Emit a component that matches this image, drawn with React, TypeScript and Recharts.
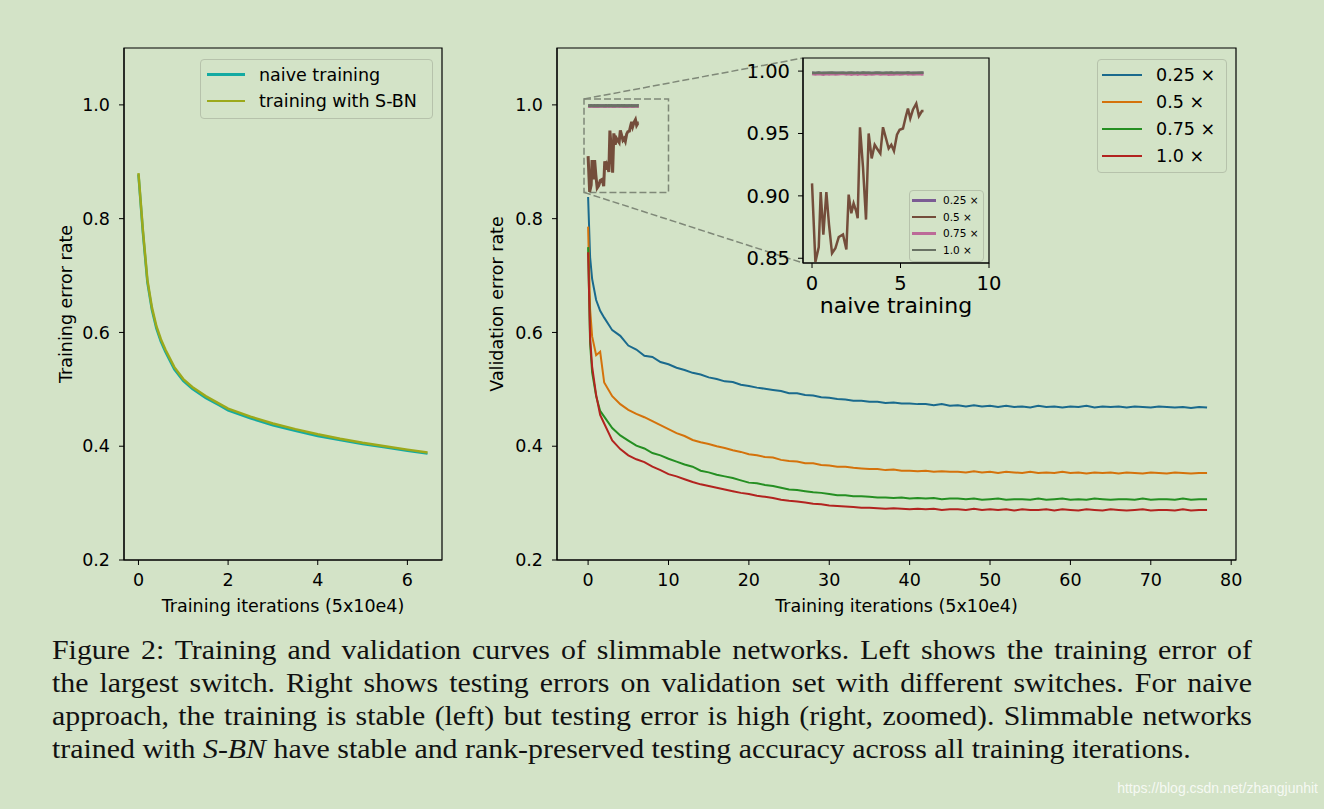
import { LineChart, Line, XAxis, YAxis, ReferenceArea, ReferenceLine } from "recharts";

const BG = "#d3e3c7";
const FONT = "'DejaVu Sans', sans-serif";

// colours (matplotlib tab palette as seen through the green page tint)
const C_BLUE = "#1a6a8d";
const C_ORANGE = "#d4720b";
const C_GREEN = "#258f22";
const C_RED = "#b2231f";
const C_PURPLE = "#7b5c94";
const C_BROWN = "#744d3b";
const C_PINK = "#bc6a98";
const C_GRAY = "#697264";
const C_CYAN = "#13aaa2";
const C_OLIVE = "#9ca91b";

// ---- left panel: training error of the largest switch ----
const trainIters = [0, 0.1, 0.2, 0.3, 0.4, 0.5, 0.6, 0.8, 1.0, 1.2, 1.5, 1.8, 2.0, 2.5, 3.0, 3.5, 4.0, 4.5, 5.0, 5.5, 6.0, 6.45];
const trainNaive = [0.878, 0.775, 0.688, 0.640, 0.607, 0.584, 0.566, 0.535, 0.515, 0.501, 0.485, 0.472, 0.463, 0.449, 0.437, 0.427, 0.418, 0.411, 0.404, 0.398, 0.392, 0.387];
const trainSBN = [0.880, 0.779, 0.692, 0.644, 0.611, 0.588, 0.570, 0.539, 0.518, 0.504, 0.488, 0.475, 0.466, 0.452, 0.440, 0.430, 0.421, 0.413, 0.406, 0.400, 0.394, 0.389];

// ---- right panel: validation error, S-BN switches ----
const iterations = [
  0, 0.25, 0.5, 1, 1.5, 2, 3, 4, 5, 6,
  7, 8, 9, 10, 11, 12, 13, 14, 15, 16,
  17, 18, 19, 20, 21, 22, 23, 24, 25, 26,
  27, 28, 29, 30, 31, 32, 33, 34, 35, 36,
  37, 38, 39, 40, 41, 42, 43, 44, 45, 46,
  47, 48, 49, 50, 51, 52, 53, 54, 55, 56,
  57, 58, 59, 60, 61, 62, 63, 64, 65, 66,
  67, 68, 69, 70, 71, 72, 73, 74, 75, 76,
  77,
];
const val025 = [
  0.838, 0.732, 0.694, 0.657, 0.638, 0.626, 0.604, 0.594, 0.577, 0.570,
  0.559, 0.557, 0.548, 0.544, 0.538, 0.534, 0.529, 0.526, 0.521, 0.518,
  0.514, 0.513, 0.508, 0.506, 0.503, 0.501, 0.499, 0.497, 0.493, 0.493,
  0.490, 0.489, 0.486, 0.485, 0.483, 0.482, 0.480, 0.480, 0.478, 0.478,
  0.476, 0.477, 0.475, 0.475, 0.474, 0.474, 0.472, 0.474, 0.471, 0.472,
  0.470, 0.472, 0.470, 0.471, 0.469, 0.471, 0.469, 0.470, 0.468, 0.471,
  0.469, 0.470, 0.468, 0.470, 0.469, 0.471, 0.468, 0.470, 0.469, 0.470,
  0.468, 0.470, 0.469, 0.468, 0.470, 0.469, 0.468, 0.469, 0.467, 0.469,
  0.468,
];
const val05 = [
  0.786, 0.640, 0.593, 0.560, 0.566, 0.512, 0.488, 0.474, 0.464, 0.457,
  0.451, 0.444, 0.437, 0.430, 0.423, 0.418, 0.411, 0.407, 0.404, 0.400,
  0.397, 0.393, 0.390, 0.386, 0.384, 0.381, 0.380, 0.376, 0.374, 0.373,
  0.370, 0.370, 0.367, 0.366, 0.364, 0.364, 0.362, 0.361, 0.360, 0.360,
  0.358, 0.359, 0.357, 0.357, 0.356, 0.357, 0.355, 0.356, 0.355, 0.355,
  0.354, 0.356, 0.354, 0.355, 0.353, 0.355, 0.354, 0.353, 0.355, 0.353,
  0.354, 0.353, 0.355, 0.353, 0.354, 0.352, 0.354, 0.353, 0.354, 0.352,
  0.354, 0.353, 0.352, 0.354, 0.353, 0.352, 0.354, 0.353, 0.352, 0.353,
  0.353,
];
const val075 = [
  0.750, 0.580, 0.530, 0.488, 0.462, 0.452, 0.432, 0.419, 0.410, 0.401,
  0.396, 0.388, 0.384, 0.378, 0.373, 0.368, 0.364, 0.357, 0.354, 0.350,
  0.347, 0.344, 0.340, 0.336, 0.335, 0.332, 0.330, 0.327, 0.324, 0.323,
  0.321, 0.319, 0.318, 0.316, 0.314, 0.314, 0.312, 0.312, 0.311, 0.310,
  0.310, 0.309, 0.310, 0.308, 0.309, 0.308, 0.309, 0.307, 0.308, 0.308,
  0.307, 0.308, 0.306, 0.307, 0.308, 0.306, 0.307, 0.307, 0.306, 0.308,
  0.306, 0.307, 0.308, 0.306, 0.307, 0.306, 0.308, 0.307, 0.306, 0.307,
  0.307, 0.306, 0.308, 0.306, 0.307, 0.307, 0.306, 0.308, 0.306, 0.307,
  0.307,
];
const val10 = [
  0.741, 0.590, 0.540, 0.490, 0.455, 0.440, 0.410, 0.395, 0.384, 0.377,
  0.372, 0.364, 0.358, 0.351, 0.347, 0.342, 0.337, 0.333, 0.330, 0.327,
  0.324, 0.321, 0.318, 0.316, 0.313, 0.311, 0.309, 0.306, 0.304, 0.303,
  0.301, 0.299, 0.298, 0.296, 0.295, 0.294, 0.293, 0.292, 0.292, 0.291,
  0.290, 0.291, 0.290, 0.289, 0.290, 0.289, 0.290, 0.288, 0.289, 0.289,
  0.288, 0.290, 0.288, 0.289, 0.288, 0.289, 0.287, 0.289, 0.288, 0.288,
  0.289, 0.287, 0.289, 0.288, 0.287, 0.289, 0.288, 0.287, 0.289, 0.288,
  0.287, 0.288, 0.289, 0.287, 0.288, 0.288, 0.287, 0.289, 0.287, 0.288,
  0.288,
];

// ---- naive training (zoomed inset) ----
const naiveIters = [
  0, 0.19, 0.38, 0.49, 0.64, 0.81, 0.96, 1.13, 1.32, 1.51,
  1.75, 1.94, 2.07, 2.22, 2.35, 2.49, 2.58, 2.71, 2.88, 3.05,
  3.2, 3.37, 3.54, 3.67, 3.86, 4.01, 4.2, 4.33, 4.48, 4.63,
  4.8, 4.95, 5.14, 5.29, 5.42, 5.55, 5.7, 5.89, 6.04, 6.21,
  6.3,
];
const naive025 = [
  0.9986, 0.9985, 0.9987, 0.9985, 0.9986, 0.9984, 0.9986, 0.9985, 0.9987, 0.9985,
  0.9986, 0.9985, 0.9986, 0.9984, 0.9986, 0.9985, 0.9987, 0.9985, 0.9986, 0.9985,
  0.9986, 0.9984, 0.9986, 0.9985, 0.9987, 0.9985, 0.9986, 0.9985, 0.9986, 0.9984,
  0.9986, 0.9985, 0.9987, 0.9985, 0.9986, 0.9985, 0.9986, 0.9984, 0.9986, 0.9985,
  0.9986,
];
const naive05 = [
  0.910, 0.847, 0.859, 0.903, 0.869, 0.903, 0.877, 0.854, 0.858, 0.867,
  0.869, 0.857, 0.901, 0.886, 0.894, 0.888, 0.882, 0.955, 0.923, 0.881,
  0.950, 0.930, 0.941, 0.938, 0.934, 0.955, 0.945, 0.938, 0.941, 0.936,
  0.949, 0.953, 0.954, 0.963, 0.970, 0.962, 0.969, 0.974, 0.964, 0.968,
  0.968,
];
const naive075 = [
  0.9976, 0.9972, 0.9977, 0.9974, 0.9971, 0.9976, 0.9973, 0.9977, 0.9972, 0.9975,
  0.9978, 0.9973, 0.9976, 0.9971, 0.9975, 0.9977, 0.9972, 0.9976, 0.9974, 0.9971,
  0.9977, 0.9973, 0.9975, 0.9978, 0.9972, 0.9974, 0.9977, 0.9971, 0.9975, 0.9973,
  0.9977, 0.9972, 0.9975, 0.9978, 0.9973, 0.9976, 0.9972, 0.9975, 0.9977, 0.9973,
  0.9975,
];
const naive10 = [
  0.9987, 0.9985, 0.9988, 0.9986, 0.9984, 0.9987, 0.9986, 0.9988, 0.9985, 0.9987,
  0.9986, 0.9984, 0.9987, 0.9988, 0.9985, 0.9986, 0.9987, 0.9985, 0.9988, 0.9986,
  0.9987, 0.9985, 0.9986, 0.9988, 0.9986, 0.9985, 0.9987, 0.9986, 0.9988, 0.9985,
  0.9987, 0.9986, 0.9985, 0.9987, 0.9988, 0.9986, 0.9985, 0.9987, 0.9986, 0.9988,
  0.9986,
];

const trainTicks = [0, 2, 4, 6];
const errTicks = [0.2, 0.4, 0.6, 0.8, 1.0];
const valTicks = [0, 10, 20, 30, 40, 50, 60, 70, 80];
const insetXTicks = [0, 5, 10];
const insetYTicks = [0.85, 0.9, 0.95, 1.0];

const trainRows = trainIters.map((x, i) => ({ x, naive: trainNaive[i], sbn: trainSBN[i] }));
const valRows = iterations.map((x, i) => ({ x, s025: val025[i], s05: val05[i], s075: val075[i], s10: val10[i] }));
const naiveRows = naiveIters.map((x, i) => ({ x, n025: naive025[i], n05: naive05[i], n075: naive075[i], n10: naive10[i] }));

// axis ranges
const TRAIN_X: [number, number] = [-0.3225, 6.7725];
const ERR_Y: [number, number] = [0.2, 1.1];
const VAL_X: [number, number] = [-3.87, 80.6];
const INSET_X: [number, number] = [-0.51, 10];
const INSET_Y: [number, number] = [0.8462, 1.0105];

// pixel layout of the right plot area and the inset box (page coords)
const MAIN_PLOT = { left: 557, right: 1236, top: 48, bottom: 560 };
const INSET_PLOT = { left: 803, right: 989, top: 58, bottom: 263 };
const toMainX = (px: number) =>
  VAL_X[0] + ((px - MAIN_PLOT.left) / (MAIN_PLOT.right - MAIN_PLOT.left)) * (VAL_X[1] - VAL_X[0]);
const toMainY = (py: number) =>
  ERR_Y[0] + ((MAIN_PLOT.bottom - py) / (MAIN_PLOT.bottom - MAIN_PLOT.top)) * (ERR_Y[1] - ERR_Y[0]);

const tickStyle = { fill: "#000", fontSize: 17.5, fontFamily: FONT };
const labelStyle = { fill: "#000", fontSize: 17.5, fontFamily: FONT, textAnchor: "middle" as const };

function Legend({ items, left, top, width, rowH, padTop, padLeft, swatch, lineW, gap, fontSize }: any) {
  return (
    <div
      style={{
        position: "absolute",
        left,
        top,
        width,
        boxSizing: "border-box",
        paddingTop: padTop,
        paddingBottom: padTop + 2,
        paddingLeft: padLeft,
        border: "1px solid #b6c2ab",
        borderRadius: 4,
        background: BG,
        fontFamily: FONT,
        fontSize,
        color: "#000",
      }}
    >
      {items.map((it: any) => (
        <div key={it.label} style={{ height: rowH, display: "flex", alignItems: "center" }}>
          <span style={{ width: swatch, height: lineW, background: it.color, marginRight: gap, display: "inline-block" }} />
          <span style={{ whiteSpace: "nowrap" }}>{it.label}</span>
        </div>
      ))}
    </div>
  );
}

const frame = (x: [number, number], y: [number, number]) => (
  <ReferenceArea x1={x[0]} x2={x[1]} y1={y[0]} y2={y[1]} fill="none" stroke="#000" strokeWidth={1.2} ifOverflow="visible" />
);

const CAPTION_SCALE = 1.127;
const justified = { textAlign: "justify" as const, textAlignLast: "justify" as const, whiteSpace: "nowrap" as const };

export default function App() {
  return (
    <div style={{ position: "absolute", left: 0, top: 0, width: 1324, height: 809, background: BG, overflow: "hidden" }}>
      {/* left panel */}
      <div style={{ position: "absolute", left: 54, top: 38 }}>
        <LineChart width={400} height={590} data={trainRows} margin={{ top: 10, right: 12, bottom: 0, left: 0 }}>
          <XAxis
            dataKey="x"
            type="number"
            domain={TRAIN_X}
            allowDataOverflow
            ticks={trainTicks}
            height={68}
            tick={tickStyle}
            tickSize={5}
            tickMargin={9}
            stroke="#000"
            label={{ value: "Training iterations (5x10e4)", position: "insideBottom", offset: 16, style: labelStyle }}
          />
          <YAxis
            type="number"
            domain={ERR_Y}
            allowDataOverflow
            ticks={errTicks}
            tickFormatter={(v: number) => v.toFixed(1)}
            width={70}
            tick={tickStyle}
            tickSize={5}
            tickMargin={9}
            stroke="#000"
            label={{ value: "Training error rate", angle: -90, position: "insideLeft", offset: 12, style: labelStyle }}
          />
          {frame(TRAIN_X, ERR_Y)}
          <Line dataKey="naive" stroke={C_CYAN} strokeWidth={2.5} dot={false} isAnimationActive={false} />
          <Line dataKey="sbn" stroke={C_OLIVE} strokeWidth={2.5} dot={false} isAnimationActive={false} />
        </LineChart>
      </div>
      <Legend
        items={[
          { label: "naive training", color: C_CYAN },
          { label: "training with S-BN", color: C_OLIVE },
        ]}
        left={200}
        top={59}
        width={233}
        rowH={26.3}
        padTop={1.6}
        padLeft={6}
        swatch={38}
        lineW={2.5}
        gap={14}
        fontSize={17.5}
      />

      {/* right panel */}
      <div style={{ position: "absolute", left: 477, top: 38 }}>
        <LineChart width={771} height={590} margin={{ top: 10, right: 12, bottom: 0, left: 0 }}>
          <XAxis
            dataKey="x"
            type="number"
            domain={VAL_X}
            allowDataOverflow
            ticks={valTicks}
            height={68}
            tick={tickStyle}
            tickSize={5}
            tickMargin={9}
            stroke="#000"
            label={{ value: "Training iterations (5x10e4)", position: "insideBottom", offset: 16, style: labelStyle }}
          />
          <YAxis
            type="number"
            domain={ERR_Y}
            allowDataOverflow
            ticks={errTicks}
            tickFormatter={(v: number) => v.toFixed(1)}
            width={80}
            tick={tickStyle}
            tickSize={5}
            tickMargin={9}
            stroke="#000"
            label={{ value: "Validation error rate", angle: -90, position: "insideLeft", offset: 20, style: labelStyle }}
          />
          {frame(VAL_X, ERR_Y)}
          <ReferenceArea
            x1={INSET_X[0]}
            x2={INSET_X[1]}
            y1={INSET_Y[0]}
            y2={INSET_Y[1]}
            fill="none"
            stroke="#7f8878"
            strokeWidth={1.5}
            strokeDasharray="7 3"
            ifOverflow="visible"
          />
          <ReferenceLine
            segment={[
              { x: INSET_X[0], y: INSET_Y[1] },
              { x: toMainX(INSET_PLOT.left), y: toMainY(INSET_PLOT.top) },
            ]}
            stroke="#7f8878"
            strokeWidth={1.5}
            strokeDasharray="7 3"
            ifOverflow="visible"
          />
          <ReferenceLine
            segment={[
              { x: INSET_X[0], y: INSET_Y[0] },
              { x: toMainX(INSET_PLOT.left), y: toMainY(INSET_PLOT.bottom) },
            ]}
            stroke="#7f8878"
            strokeWidth={1.5}
            strokeDasharray="7 3"
            ifOverflow="visible"
          />
          <Line data={naiveRows} dataKey="n025" stroke={C_PURPLE} strokeWidth={3} dot={false} isAnimationActive={false} />
          <Line data={naiveRows} dataKey="n05" stroke={C_BROWN} strokeWidth={3} dot={false} isAnimationActive={false} />
          <Line data={naiveRows} dataKey="n075" stroke={C_PINK} strokeWidth={3} dot={false} isAnimationActive={false} />
          <Line data={naiveRows} dataKey="n10" stroke={C_GRAY} strokeWidth={3} dot={false} isAnimationActive={false} />
          <Line data={valRows} dataKey="s025" stroke={C_BLUE} strokeWidth={2} dot={false} isAnimationActive={false} />
          <Line data={valRows} dataKey="s05" stroke={C_ORANGE} strokeWidth={2} dot={false} isAnimationActive={false} />
          <Line data={valRows} dataKey="s075" stroke={C_GREEN} strokeWidth={2} dot={false} isAnimationActive={false} />
          <Line data={valRows} dataKey="s10" stroke={C_RED} strokeWidth={2} dot={false} isAnimationActive={false} />
        </LineChart>
      </div>
      <Legend
        items={[
          { label: "0.25 ×", color: C_BLUE },
          { label: "0.5 ×", color: C_ORANGE },
          { label: "0.75 ×", color: C_GREEN },
          { label: "1.0 ×", color: C_RED },
        ]}
        left={1097}
        top={59}
        width={130}
        rowH={27}
        padTop={1}
        padLeft={4}
        swatch={40}
        lineW={2}
        gap={14}
        fontSize={17.5}
      />

      {/* inset: naive training, zoomed */}
      <div style={{ position: "absolute", left: 743, top: 48 }}>
        <LineChart width={276} height={275} data={naiveRows} margin={{ top: 10, right: 30, bottom: 0, left: 0 }}>
          <XAxis
            dataKey="x"
            type="number"
            domain={INSET_X}
            allowDataOverflow
            ticks={insetXTicks}
            height={60}
            tick={{ ...tickStyle, fontSize: 19.5 }}
            tickSize={5}
            tickMargin={8}
            stroke="#000"
            interval={0}
            label={{ value: "naive training", position: "insideBottom", offset: 10, style: { ...labelStyle, fontSize: 22 } }}
          />
          <YAxis
            type="number"
            domain={INSET_Y}
            allowDataOverflow
            ticks={insetYTicks}
            tickFormatter={(v: number) => v.toFixed(2)}
            width={60}
            tick={{ ...tickStyle, fontSize: 19.5 }}
            tickSize={5}
            tickMargin={8}
            stroke="#000"
          />
          {frame(INSET_X, INSET_Y)}
          <Line dataKey="n025" stroke={C_PURPLE} strokeWidth={2.5} dot={false} isAnimationActive={false} />
          <Line dataKey="n05" stroke={C_BROWN} strokeWidth={2.5} dot={false} isAnimationActive={false} />
          <Line dataKey="n075" stroke={C_PINK} strokeWidth={2.5} dot={false} isAnimationActive={false} />
          <Line dataKey="n10" stroke={C_GRAY} strokeWidth={2.5} dot={false} isAnimationActive={false} />
        </LineChart>
      </div>
      <Legend
        items={[
          { label: "0.25 ×", color: C_PURPLE },
          { label: "0.5 ×", color: C_BROWN },
          { label: "0.75 ×", color: C_PINK },
          { label: "1.0 ×", color: C_GRAY },
        ]}
        left={909}
        top={190}
        width={75}
        rowH={16.5}
        padTop={1}
        padLeft={2}
        swatch={24}
        lineW={2.5}
        gap={7}
        fontSize={10.5}
      />

      {/* caption (Times in the source is wider than Liberation Serif, so stretch it) */}
      <div
        style={{
          position: "absolute",
          left: 52,
          top: 634,
          width: 1200 / CAPTION_SCALE,
          transform: `scaleX(${CAPTION_SCALE})`,
          transformOrigin: "0 0",
          fontFamily: "'Liberation Serif', serif",
          fontSize: 26.5,
          lineHeight: "33px",
          color: "#111",
        }}
      >
        <div style={justified}>
          Figure 2: Training and validation curves of slimmable networks. Left shows the training error of
        </div>
        <div style={justified}>
          the largest switch. Right shows testing errors on validation set with different switches. For naive
        </div>
        <div style={justified}>
          approach, the training is stable (left) but testing error is high (right, zoomed). Slimmable networks
        </div>
        <div style={{ whiteSpace: "nowrap" }}>
          trained with <i>S-BN</i> have stable and rank-preserved testing accuracy across all training iterations.
        </div>
      </div>

      <div
        style={{
          position: "absolute",
          right: 6,
          top: 780,
          fontFamily: "'Liberation Sans Narrow', 'Liberation Sans', sans-serif",
          fontSize: 14,
          color: "rgba(255,255,255,0.8)",
        }}
      >
        https://blog.csdn.net/zhangjunhit
      </div>
    </div>
  );
}
